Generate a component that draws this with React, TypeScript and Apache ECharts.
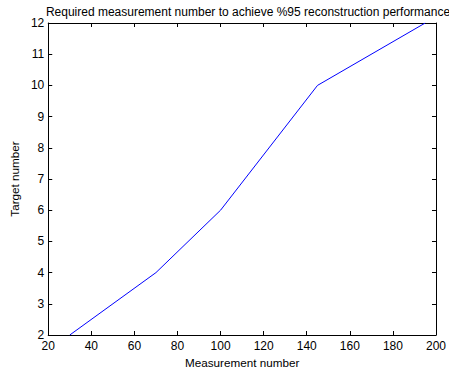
import React, { useEffect, useRef } from "react";
import * as echarts from "echarts";

const measurementNumber = [30, 70, 100, 145, 195];
const targetNumber = [2, 4, 6, 10, 12];

const FONT = "'Liberation Sans', Arial, sans-serif";

export default function App() {
  const ref = useRef<HTMLDivElement>(null);

  useEffect(() => {
    if (!ref.current) return;
    const chart = echarts.init(ref.current, undefined, { renderer: "svg" });
    const axisLine = { show: true, lineStyle: { color: "#000", width: 1 } };
    const tick = { show: true, inside: true, length: 4, lineStyle: { color: "#000" } };
    chart.setOption({
      animation: false,
      backgroundColor: "#fff",
      title: {
        text: "Required measurement number to achieve %95 reconstruction performance",
        left: 243,
        textAlign: "center",
        top: 1,
        textStyle: { fontFamily: FONT, fontSize: 12, fontWeight: "normal", color: "#000" },
      },
      grid: { left: 45, right: 8, top: 23, bottom: 39 },
      xAxis: [
        {
          type: "value",
          min: 20,
          max: 200,
          interval: 20,
          name: "Measurement number",
          nameLocation: "middle",
          nameGap: 21,
          nameTextStyle: { fontFamily: FONT, fontSize: 11.7, color: "#000" },
          axisLine,
          axisTick: tick,
          splitLine: { show: false },
          axisLabel: { fontFamily: FONT, fontSize: 12, color: "#000", margin: 5 },
        },
        {
          type: "value",
          position: "top",
          min: 20,
          max: 200,
          interval: 20,
          axisLine,
          axisTick: tick,
          splitLine: { show: false },
          axisLabel: { show: false },
        },
      ],
      yAxis: [
        {
          type: "value",
          min: 2,
          max: 12,
          interval: 1,
          name: "Target number",
          nameLocation: "middle",
          nameGap: 23,
          nameTextStyle: { fontFamily: FONT, fontSize: 11.7, color: "#000" },
          axisLine,
          axisTick: tick,
          splitLine: { show: false },
          axisLabel: { fontFamily: FONT, fontSize: 12, color: "#000", margin: 4 },
        },
        {
          type: "value",
          position: "right",
          min: 2,
          max: 12,
          interval: 1,
          axisLine,
          axisTick: tick,
          splitLine: { show: false },
          axisLabel: { show: false },
        },
      ],
      series: [
        {
          type: "line",
          data: measurementNumber.map((m, i) => [m, targetNumber[i]]),
          symbol: "none",
          lineStyle: { color: "#0000ff", width: 1 },
          xAxisIndex: 0,
          yAxisIndex: 0,
        },
      ],
    });
    return () => chart.dispose();
  }, []);

  return (
    <div
      ref={ref}
      style={{ position: "absolute", left: 0, top: 0, width: 449, height: 374 }}
    />
  );
}
